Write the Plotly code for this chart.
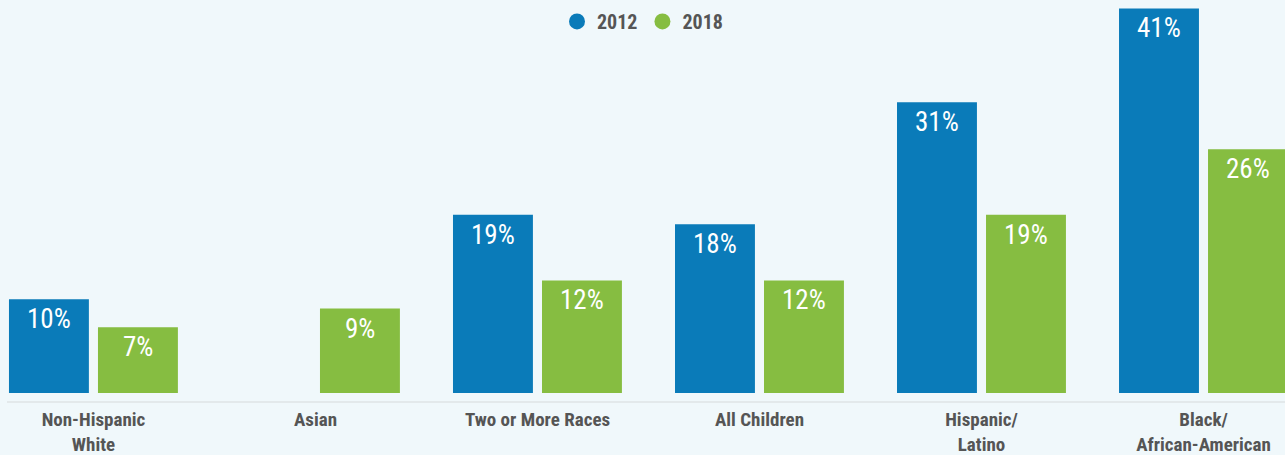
import plotly.graph_objects as go

## données
categories = ['Non-Hispanic<br>White', 'Asian', 'Two or More Races',
              'All Children', 'Hispanic/<br>Latino', 'Black/<br>African-American']
values_2012 = [10, None, 19, 18, 31, 41]
values_2018 = [7, 9, 12, 12, 19, 26]

blue = '#0a7bb9'
green = '#86bd41'
grey = '#555555'
bg = '#f0f8fb'
font = 'Roboto Condensed, Roboto, sans-serif'

fig = go.Figure()

## barres (sans légende, la légende utilise des ronds)
## largeur / décalage en unités de catégorie
for name, vals, col, off in [('2012', values_2012, blue, -0.3806),
                             ('2018', values_2018, green, 0.0203)]:
    fig.add_trace(go.Bar(x=categories, y=vals, name=name, marker_color=col,
                         width=0.36, offset=off, marker_line_width=0,
                         showlegend=False, hoverinfo='x+y'))

## légende : ronds
for name, col in [('2012', blue), ('2018', green)]:
    fig.add_trace(go.Scatter(x=[None], y=[None], mode='markers', name=name,
                             marker=dict(color=col, size=18, symbol='circle')))

## étiquettes blanches en haut des barres
annotations = []
for vals, shift in [(values_2012, -44.5), (values_2018, 44.5)]:
    for cat, v in zip(categories, vals):
        if v is None:
            continue
        annotations.append(dict(x=cat, y=v, text=f'{v}%', showarrow=False,
                                xshift=shift, yshift=-20, yanchor='middle',
                                font=dict(family=font, size=27, color='white',
                                          weight='normal')))

fig.update_layout(
    width=1285, height=455,
    margin=dict(l=0, r=0, t=0, b=62, autoexpand=False),
    paper_bgcolor=bg, plot_bgcolor=bg,
    barmode='overlay',
    annotations=annotations,
    font=dict(family=font, color=grey),
    legend=dict(orientation='h', x=0.5, xanchor='center', y=0.995, yanchor='top',
                bgcolor='rgba(0,0,0,0)', font=dict(size=20, color=grey,
                                                     family=font, weight='bold'),
                itemwidth=30),
    xaxis=dict(range=[-0.421, 5.367], showgrid=False, zeroline=False,
               showline=False, ticks='', ticklabelstandoff=13, automargin=False,
               tickfont=dict(size=19, color=grey, family=font, weight='bold')),
    yaxis=dict(range=[0, 41.9], visible=False, showgrid=False, zeroline=False,
               automargin=False),
    shapes=[dict(type='line', xref='paper', yref='paper', x0=7/1285, x1=1,
                 y0=-9/393, y1=-9/393, line=dict(color='#e3e9eb', width=2))],
)

fig.write_html('out.html', config={'displayModeBar': False},
               post_script="document.body.style.margin='0';")
